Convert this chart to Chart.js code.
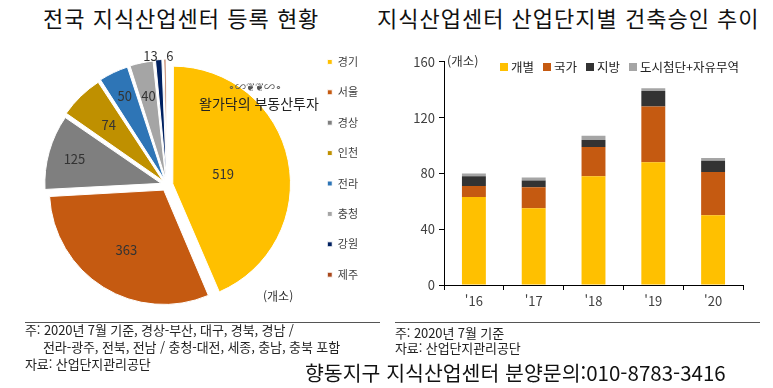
<!DOCTYPE html>
<html lang="ko">
<head>
<meta charset="utf-8">
<script src="https://cdn.jsdelivr.net/npm/chart.js@4.4.1/dist/chart.umd.min.js"></script>
<style>
    body { margin: 0; width: 773px; height: 388px; background: #fff; position: relative; overflow: hidden;
           font-family: "Noto Sans CJK KR", "Noto Sans", sans-serif; color: #222; }
    .abs { position: absolute; white-space: nowrap; }
    .title { font-size: 22px; letter-spacing: 1px; top: 3px; line-height: 28px; color: #111; }
    .note { font-size: 13px; line-height: 16px; color: #222; letter-spacing: -0.1px; }
    .rule { position: absolute; height: 1px; background: #555; top: 322px; }
    #pie-wrap { position: absolute; left: 0; top: 37px; width: 368px; height: 296px; }
    #bar-wrap { position: absolute; left: 395px; top: 50px; width: 360px; height: 262px; }
    .bar-legend { left: 500px; top: 57px; font-size: 12.5px; display: flex; gap: 9px; color: #222; }
    .bar-legend span.box { display: inline-block; width: 8px; height: 8px; margin-right: 3px; vertical-align: 1px; }
</style>
</head>
<body>

<div class="abs title" style="left:43px">전국 지식산업센터 등록 현황</div>
<div class="abs title" style="left:377px">지식산업센터 산업단지별 건축승인 추이</div>

<div id="pie-wrap"><canvas id="pie"></canvas></div>
<div id="bar-wrap"><canvas id="bar"></canvas></div>

<div class="abs" style="left:228px; top:78px; font-size:11px; color:#555;">∘∽❦❦∽∘</div>
<div class="abs" style="left:199px; top:93px; font-size:14px; color:#222;">왈가닥의 부동산투자</div>
<div class="abs" style="left:263px; top:287px; font-size:12px; color:#333;">(개소)</div>
<div class="abs" style="left:447px; top:51px; font-size:12.5px; color:#333;">(개소)</div>
<div class="abs bar-legend" id="bar-legend"></div>

<div class="rule" style="left:25px; width:355px"></div>
<div class="rule" style="left:395px; width:365px"></div>
<div class="abs note" style="left:25px; top:322px">주: 2020년 7월 기준, 경상-부산, 대구, 경북, 경남 /</div>
<div class="abs note" style="left:43px; top:339px">전라-광주, 전북, 전남 / 충청-대전, 세종, 충남, 충북 포함</div>
<div class="abs note" style="left:25px; top:356px">자료: 산업단지관리공단</div>
<div class="abs note" style="left:395px; top:325px">주: 2020년 7월 기준</div>
<div class="abs note" style="left:395px; top:340px">자료: 산업단지관리공단</div>
<div class="abs" style="left:305px; top:359px; font-size:20.5px; line-height:26px; color:#111;">향동지구 지식산업센터 분양문의:010-8783-3416</div>

<script>
// 전국 지식산업센터 등록 현황 (개소)
const regions = ['경기', '서울', '경상', '인천', '전라', '충청', '강원', '제주'];
const regionCounts = [519, 363, 125, 74, 50, 40, 13, 6];
const regionColors = ['#FFC000', '#C55A11', '#7F7F7F', '#BF9000', '#2E75B6', '#A5A5A5', '#002060', '#A9481C'];

// 산업단지별 건축승인 추이
const years = ["'16", "'17", "'18", "'19", "'20"];
const gaebyeol = [63, 55, 78, 88, 50];
const gukga = [8, 15, 21, 40, 31];
const jibang = [7, 5, 5, 11, 8];
const dosi = [2, 2, 3, 2, 2];
const yTicks = [0, 40, 80, 120, 160];

// label distance (fraction of radius) + horizontal nudge for each slice
const labelDist = [0.45, 0.62, 0.79, 0.68, 0.81, 0.74, 1.08, 1.08];
const labelNudge = [0, 0, 0, 0, 0, 0, -8, 5];

const pieLabels = {
    id: 'pieLabels',
    afterDatasetsDraw(chart) {
        const ctx = chart.ctx;
        const meta = chart.getDatasetMeta(0);
        ctx.save();
        ctx.font = '13px "Noto Sans CJK KR", sans-serif';
        ctx.fillStyle = '#333';
        ctx.textAlign = 'center';
        ctx.textBaseline = 'middle';
        meta.data.forEach((arc, i) => {
            const p = arc.getProps(['x', 'y', 'startAngle', 'endAngle', 'outerRadius'], true);
            const mid = (p.startAngle + p.endAngle) / 2;
            const r = p.outerRadius * labelDist[i] + 6;
            ctx.fillText(regionCounts[i], p.x + Math.cos(mid) * r + labelNudge[i], p.y + Math.sin(mid) * r);
        });
        ctx.restore();
    }
};

new Chart(document.getElementById('pie'), {
    type: 'pie',
    data: {
        labels: regions,
        datasets: [{
            data: regionCounts,
            backgroundColor: regionColors,
            borderColor: '#fff',
            borderWidth: 1,
            offset: 24,
            radius: 114
        }]
    },
    options: {
        responsive: true,
        maintainAspectRatio: false,
        animation: false,
        layout: { padding: { left: 26 } },
        plugins: {
            legend: {
                position: 'right',
                align: 'start',
                labels: {
                    boxWidth: 5,
                    boxHeight: 5,
                    padding: 19.4,
                    color: '#404040',
                    font: { size: 11, family: '"Noto Sans CJK KR", sans-serif' }
                }
            },
            tooltip: { enabled: false }
        }
    },
    plugins: [pieLabels]
});

const barSeries = [
    { label: '개별', data: gaebyeol, color: '#FFC000' },
    { label: '국가', data: gukga, color: '#C55A11' },
    { label: '지방', data: jibang, color: '#333333' },
    { label: '도시첨단+자유무역', data: dosi, color: '#A5A5A5' }
];

document.getElementById('bar-legend').innerHTML = barSeries
    .map(s => `<div><span class="box" style="background:${s.color}"></span>${s.label}</div>`)
    .join('');

new Chart(document.getElementById('bar'), {
    type: 'bar',
    data: {
        labels: years,
        datasets: barSeries.map(s => ({
            label: s.label,
            data: s.data,
            backgroundColor: s.color,
            categoryPercentage: 1,
            barPercentage: 0.4
        }))
    },
    options: {
        responsive: true,
        maintainAspectRatio: false,
        animation: false,
        layout: { padding: { top: 9, right: 12 } },
        plugins: { legend: { display: false }, tooltip: { enabled: false } },
        scales: {
            x: {
                stacked: true,
                border: { display: true, color: '#000', width: 1 },
                grid: { drawOnChartArea: false, drawTicks: true, tickLength: 5, color: '#000', offset: true },
                ticks: { color: '#404040', padding: 3, font: { size: 13, family: '"Noto Sans CJK KR", sans-serif' } },
                afterFit: s => { s.height = 27; }
            },
            y: {
                stacked: true,
                min: 0,
                max: 160,
                border: { display: true, color: '#000', width: 1 },
                grid: { drawOnChartArea: false, drawTicks: true, tickLength: 5, color: '#000' },
                afterBuildTicks: s => { s.ticks = yTicks.map(v => ({ value: v })); },
                ticks: { color: '#404040', padding: 4, font: { size: 13, family: '"Noto Sans CJK KR", sans-serif' } },
                afterFit: s => { s.width = 49; }
            }
        }
    }
});
</script>
</body>
</html>
